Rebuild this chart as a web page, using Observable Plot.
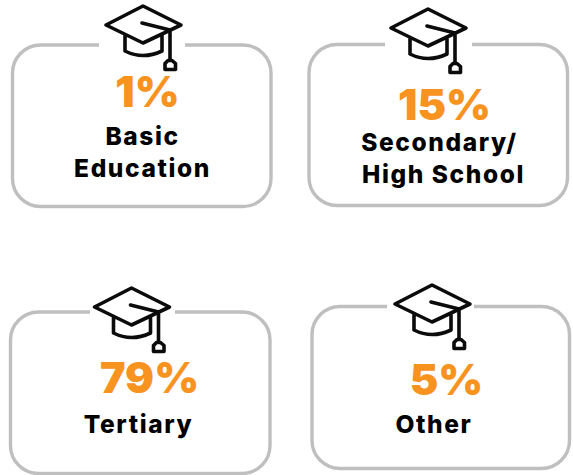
<!DOCTYPE html>
<html><head><meta charset="utf-8">
<script src="https://cdn.jsdelivr.net/npm/d3@7"></script>
<script src="https://cdn.jsdelivr.net/npm/@observablehq/plot@0.6"></script>
<style>html,body{margin:0;padding:0;background:#fff}svg{display:block}</style>
</head><body><div id="chart"></div>
<script>
// Data
const categories = ["Basic Education", "Secondary/High School", "Tertiary", "Other"];
const shares = [1, 15, 79, 5];
const labelLines = [["Basic", "Education"], ["Secondary/", "High School"], ["Tertiary"], ["Other"]];

// Layout of the four cards (page layout, not data)
const frames = [
  {x1: 12.5, x2: 271, y1: 45, y2: 206.5, gap: [99, 185], icon: [143, 25], at: [147, 106], lines: [[142, 144.5], [142, 176.5]]},
  {x1: 309, x2: 567.5, y1: 44.5, y2: 205.5, gap: [385, 472], icon: [428, 28], at: [444, 119], lines: [[439, 150], [443, 182.5]]},
  {x1: 10.5, x2: 270, y1: 312, y2: 473.5, gap: [90, 175], icon: [131.5, 307], at: [149, 392], lines: [[138, 432.5]]},
  {x1: 312, x2: 569.5, y1: 306.5, y2: 468.5, gap: [387, 474], icon: [432, 304], at: [446, 394], lines: [[433.5, 432]]}
];
const cards = categories.map((c, i) => ({category: c, share: shares[i], ...frames[i]}));
const lineRows = cards.flatMap((d, i) => labelLines[i].map((t, j) => ({text: t, x: d.lines[j][0], y: d.lines[j][1]})));

const capPath = "M0,-19L38,0L0,18L-37,0ZM-18,10V26Q0,35 19,26V10M-1,-2L27,5V35M22,44.5V38.5L25,35.5H29L32.5,38.5V44.5Z";

const capMark = (index, {x, y}) => {
  const g = d3.create("svg:g");
  for (const d of cards) {
    g.append("path")
      .attr("transform", `translate(${x(d.icon[0])},${y(d.icon[1])})`)
      .attr("d", capPath).attr("fill", "none").attr("stroke", "#0b0b0b")
      .attr("stroke-width", 3.6).attr("stroke-linejoin", "round").attr("stroke-linecap", "round");
  }
  return g.node();
};

const font = "Inter, 'Noto Sans', sans-serif";
const chart = Plot.plot({
  width: 573, height: 475, margin: 0,
  x: {domain: [0, 573], range: [0, 573], axis: null},
  y: {domain: [0, 475], range: [0, 475], axis: null},
  style: {background: "#fff", fontFamily: font},
  marks: [
    Plot.rect(cards, {x1: "x1", x2: "x2", y1: "y1", y2: "y2", rx: 28, fill: "#fff", stroke: "#bfbfbf", strokeWidth: 3.4}),
    Plot.ruleY(cards, {y: "y1", x1: d => d.gap[0], x2: d => d.gap[1], stroke: "#fff", strokeWidth: 6}),
    capMark,
    Plot.text(cards, {x: d => d.at[0], y: d => d.at[1], text: d => d.share + "%", fill: "#f7931e", fontSize: 43, fontWeight: 900, lineAnchor: "bottom", fontFamily: font}),
    Plot.text(lineRows, {x: "x", y: "y", text: "text", fill: "#000", fontSize: 24.5, fontWeight: 800, lineAnchor: "bottom", fontFamily: font})
  ]
});
const textGroups = chart.querySelectorAll("g[aria-label=text]");
textGroups[textGroups.length - 1].style.letterSpacing = "1.6px";
document.getElementById("chart").append(chart);
</script></body></html>
